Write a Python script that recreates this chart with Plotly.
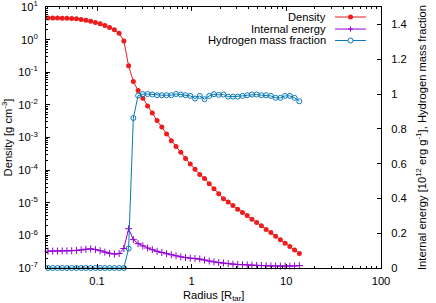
import plotly.graph_objects as go

# ---------------- data ----------------
radius = [0.03034, 0.03404, 0.03821, 0.04288, 0.04812, 0.05401, 0.06061, 0.06802,
          0.07634, 0.08568, 0.09616, 0.1079, 0.1211, 0.1359, 0.1525, 0.1712,
          0.1921, 0.2156, 0.2420, 0.2716, 0.3048, 0.3421, 0.3839, 0.4309,
          0.4835, 0.5427, 0.6091, 0.6835, 0.7672, 0.8610, 0.9660, 1.084,
          1.217, 1.366, 1.532, 1.720, 1.930, 2.166, 2.431, 2.728,
          3.062, 3.437, 3.857, 4.328, 4.858, 5.452, 6.118, 6.866,
          7.706, 8.648, 9.705, 10.89, 12.22, 13.72]

density = [4.6, 4.6, 4.6, 4.5, 4.5, 4.42, 4.33, 4.12, 3.93, 3.66,
           3.33, 3.04, 2.69, 2.34, 1.99, 1.56, 0.91, 0.158, 0.052, 0.0274,
           0.016, 0.00925, 0.00564, 0.0033, 0.00209, 0.00129, 8.0e-4, 5.3e-4, 3.5e-4, 2.27e-4,
           1.55e-4, 1.06e-4, 7.3e-5, 5.5e-5, 3.85e-5, 2.7e-5, 1.9e-5, 1.33e-5, 1.05e-5, 8.3e-6,
           6.35e-6, 5.03e-6, 4.07e-6, 3.13e-6, 2.48e-6, 1.96e-6, 1.51e-6, 1.22e-6, 9.4e-7, 7.4e-7,
           5.7e-7, 4.6e-7, 3.57e-7, 2.8e-7]

energy = [0.097, 0.097, 0.097, 0.098, 0.098, 0.099, 0.101, 0.104, 0.108, 0.110,
          0.106, 0.099, 0.091, 0.084, 0.080, 0.083, 0.112, 0.226, 0.163, 0.140,
          0.127, 0.115, 0.105, 0.096, 0.089, 0.082, 0.076, 0.070, 0.064, 0.060,
          0.057, 0.055, 0.052, 0.046, 0.040, 0.035, 0.031, 0.028, 0.025, 0.022,
          0.020, 0.019, 0.018, 0.016, 0.015, 0.014, 0.013, 0.012, 0.012, 0.011,
          0.011, 0.011, 0.012, 0.014]

hfrac = [0, 0, 0, 0, 0, 0, 0, 0, 0, 0,
         0, 0, 0, 0, 0, 0, 0, 0.112, 0.862, 0.991,
         0.999, 1.0, 0.997, 0.993, 0.993, 0.993, 0.993, 1.0, 0.997, 0.993,
         0.989, 0.974, 0.989, 0.970, 0.989, 0.999, 0.995, 0.997, 0.985, 0.985,
         0.985, 0.989, 0.993, 0.997, 0.997, 0.993, 0.993, 0.989, 0.978, 0.978,
         0.989, 0.989, 0.978, 0.958]

series_names = ["Density", "Internal energy", "Hydrogen mass fraction"]

y_tickvals = [1e-7, 1e-6, 1e-5, 1e-4, 1e-3, 1e-2, 1e-1, 1e0, 1e1]
y_ticktext = ["10<sup>-7</sup>", "10<sup>-6</sup>", "10<sup>-5</sup>", "10<sup>-4</sup>",
              "10<sup>-3</sup>", "10<sup>-2</sup>", "10<sup>-1</sup>", "10<sup>0</sup>",
              "10<sup>1</sup>"]

x_title = "Radius [R<sub>tar</sub>]"
y_title = "Density [g cm<sup>-3</sup>]"
y2_title = "Internal energy [10<sup>12</sup> erg g<sup>-1</sup>], Hydrogen mass fraction"

# ---------------- style ----------------
RED = "#ee1c1c"
PURPLE = "#9400d3"
BLUE = "#0a78b8"
FONT = "Liberation Sans, Arial, Helvetica, sans-serif"
FS = 11.2

y_minor = [m * 10.0 ** e for e in range(-7, 1) for m in range(2, 10)]

fig = go.Figure()
fig.add_trace(go.Scatter(
    x=radius, y=density, name=series_names[0], mode="lines+markers",
    line=dict(color=RED, width=1), cliponaxis=False,
    marker=dict(symbol="circle", size=5, color=RED)))
fig.add_trace(go.Scatter(
    x=radius, y=energy, name=series_names[1], mode="lines+markers", yaxis="y2",
    line=dict(color=PURPLE, width=1), cliponaxis=False,
    marker=dict(symbol="cross-thin", size=5, color=PURPLE,
                line=dict(color=PURPLE, width=1))))
fig.add_trace(go.Scatter(
    x=radius, y=hfrac, name=series_names[2], mode="lines+markers", yaxis="y2",
    line=dict(color=BLUE, width=1), cliponaxis=False,
    marker=dict(symbol="circle-open", size=5, color=BLUE,
                line=dict(color=BLUE, width=1))))

fig.update_layout(
    width=436, height=303,
    margin=dict(l=46, r=55, t=7, b=35, autoexpand=False),
    plot_bgcolor="white", paper_bgcolor="white",
    font=dict(family=FONT, size=FS, color="black"),
    showlegend=False,
    xaxis=dict(
        type="log", range=[-1.539, 2], dtick=1, tick0=0, automargin=False,
        ticks="inside", ticklen=4, tickcolor="black", tickwidth=1,
        showline=True, linecolor="black", linewidth=1, mirror="ticks",
        showgrid=False, zeroline=False, ticklabelstandoff=3,
        minor=dict(ticks="inside", ticklen=2, dtick="D1", tickcolor="black",
                   showgrid=False),
    ),
    yaxis=dict(
        type="log", range=[-7, 1], tickmode="array", automargin=False,
        tickvals=y_tickvals, ticktext=y_ticktext, ticklabeloverflow="allow",
        ticks="inside", ticklen=4, tickcolor="black", tickwidth=1,
        showline=True, linecolor="black", linewidth=1,
        showgrid=False, zeroline=False, ticklabelstandoff=5,
        minor=dict(ticks="inside", ticklen=2, tickmode="array",
                   tickvals=y_minor, tickcolor="black", showgrid=False),
        title=dict(text=y_title, standoff=3, font=dict(size=FS)),
    ),
    yaxis2=dict(
        overlaying="y", side="right", range=[0, 1.5], dtick=0.2, tick0=0,
        automargin=False,
        ticks="inside", ticklen=4, tickcolor="black", tickwidth=1,
        showline=True, linecolor="black", linewidth=1,
        showgrid=False, zeroline=False, ticklabelstandoff=7,
        title=dict(text=y2_title, standoff=12, font=dict(size=FS)),
    ),
)

# x-axis title placed as in the reference (just below the tick labels)
fig.add_annotation(x=0.5, y=-0.106, xref="paper", yref="paper", text=x_title,
                   showarrow=False, xanchor="center", yanchor="middle",
                   font=dict(size=FS, color="black"))

# ---------------- manual legend (text left, sample right, like gnuplot) ----------------
leg_y = [0.9616, 0.9155, 0.8717]
leg_colors = [RED, PURPLE, BLUE]
text_x = 0.841
line_x0, line_x1, mark_x = 0.8627, 0.9552, 0.909
for name, yy, col in zip(series_names, leg_y, leg_colors):
    fig.add_annotation(x=text_x, y=yy, xref="paper", yref="paper", text=name,
                       showarrow=False, xanchor="right", yanchor="middle",
                       font=dict(size=FS, color="black"))
    fig.add_shape(type="line", xref="paper", yref="paper", x0=line_x0, x1=line_x1,
                  y0=yy, y1=yy, line=dict(color=col, width=1))

# legend marker glyphs (pixel-sized, anchored to the sample lines)
fig.add_shape(type="circle", xref="paper", yref="paper", xsizemode="pixel", ysizemode="pixel",
              xanchor=mark_x, yanchor=leg_y[0], x0=-2.5, x1=2.5, y0=-2.5, y1=2.5,
              fillcolor=RED, line=dict(color=RED, width=0))
fig.add_shape(type="line", xref="paper", yref="paper", xsizemode="pixel", ysizemode="pixel",
              xanchor=mark_x, yanchor=leg_y[1], x0=-2.5, x1=2.5, y0=0, y1=0,
              line=dict(color=PURPLE, width=1))
fig.add_shape(type="line", xref="paper", yref="paper", xsizemode="pixel", ysizemode="pixel",
              xanchor=mark_x, yanchor=leg_y[1], x0=0, x1=0, y0=-2.5, y1=2.5,
              line=dict(color=PURPLE, width=1))
fig.add_shape(type="circle", xref="paper", yref="paper", xsizemode="pixel", ysizemode="pixel",
              xanchor=mark_x, yanchor=leg_y[2], x0=-2.5, x1=2.5, y0=-2.5, y1=2.5,
              fillcolor="white", line=dict(color=BLUE, width=1))

fig.write_html(
    "out.html",
    config={"displayModeBar": False},
    post_script="document.body.style.margin='0px';document.body.style.overflow='hidden';",
)
